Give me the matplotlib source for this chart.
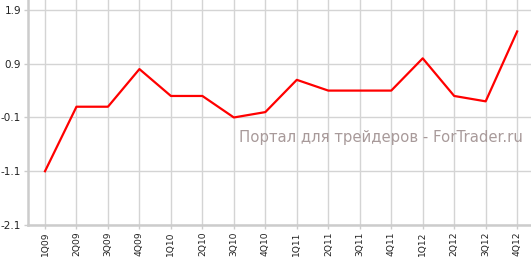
import matplotlib
matplotlib.use("Agg")
import matplotlib.pyplot as plt

quarters = ["1Q09", "2Q09", "3Q09", "4Q09", "1Q10", "2Q10", "3Q10", "4Q10",
            "1Q11", "2Q11", "3Q11", "4Q11", "1Q12", "2Q12", "3Q12", "4Q12"]
values = [-1.1, 0.1, 0.1, 0.8, 0.3, 0.3, -0.1, 0.0,
          0.6, 0.4, 0.4, 0.4, 1.0, 0.3, 0.2, 1.5]
yticks = [-2.1, -1.1, -0.1, 0.9, 1.9]
watermark = "Портал для трейдеров - ForTrader.ru"

fig = plt.figure(figsize=(5.31, 2.59), dpi=100)
ax = fig.add_axes([28/531, 34/259, 503/531, 225/259])
x = list(range(len(quarters)))
ax.plot(x, values, color="#ff0000", linewidth=1.6, zorder=3)
ax.set_xlim(-0.54, 15.44)
ax.set_ylim(-2.1, 2.085)
ax.set_xticks(x)
ax.set_xticklabels(quarters, rotation=90, fontsize=6.6, color="#333333")
ax.set_yticks(yticks)
ax.set_yticklabels([f"{v:.1f}" for v in yticks], fontsize=7.5, color="#111111")
ax.grid(True, color="#d4d4d4", linewidth=1)
ax.set_axisbelow(True)
for s in ["top", "right"]:
    ax.spines[s].set_visible(False)
for s in ["left", "bottom"]:
    ax.spines[s].set_color("#cccccc")
    ax.spines[s].set_linewidth(1.8)
ax.tick_params(axis="both", colors="#cccccc", length=3, width=1, labelcolor="#222222")
ax.tick_params(axis="x", pad=1.5)
ax.tick_params(axis="y", pad=2)
ax.text(0.984, 0.391, watermark, transform=ax.transAxes, ha="right", va="center",
        fontsize=10.7, color="#a89a9a", zorder=4)
fig.savefig("out.png", dpi=100)
